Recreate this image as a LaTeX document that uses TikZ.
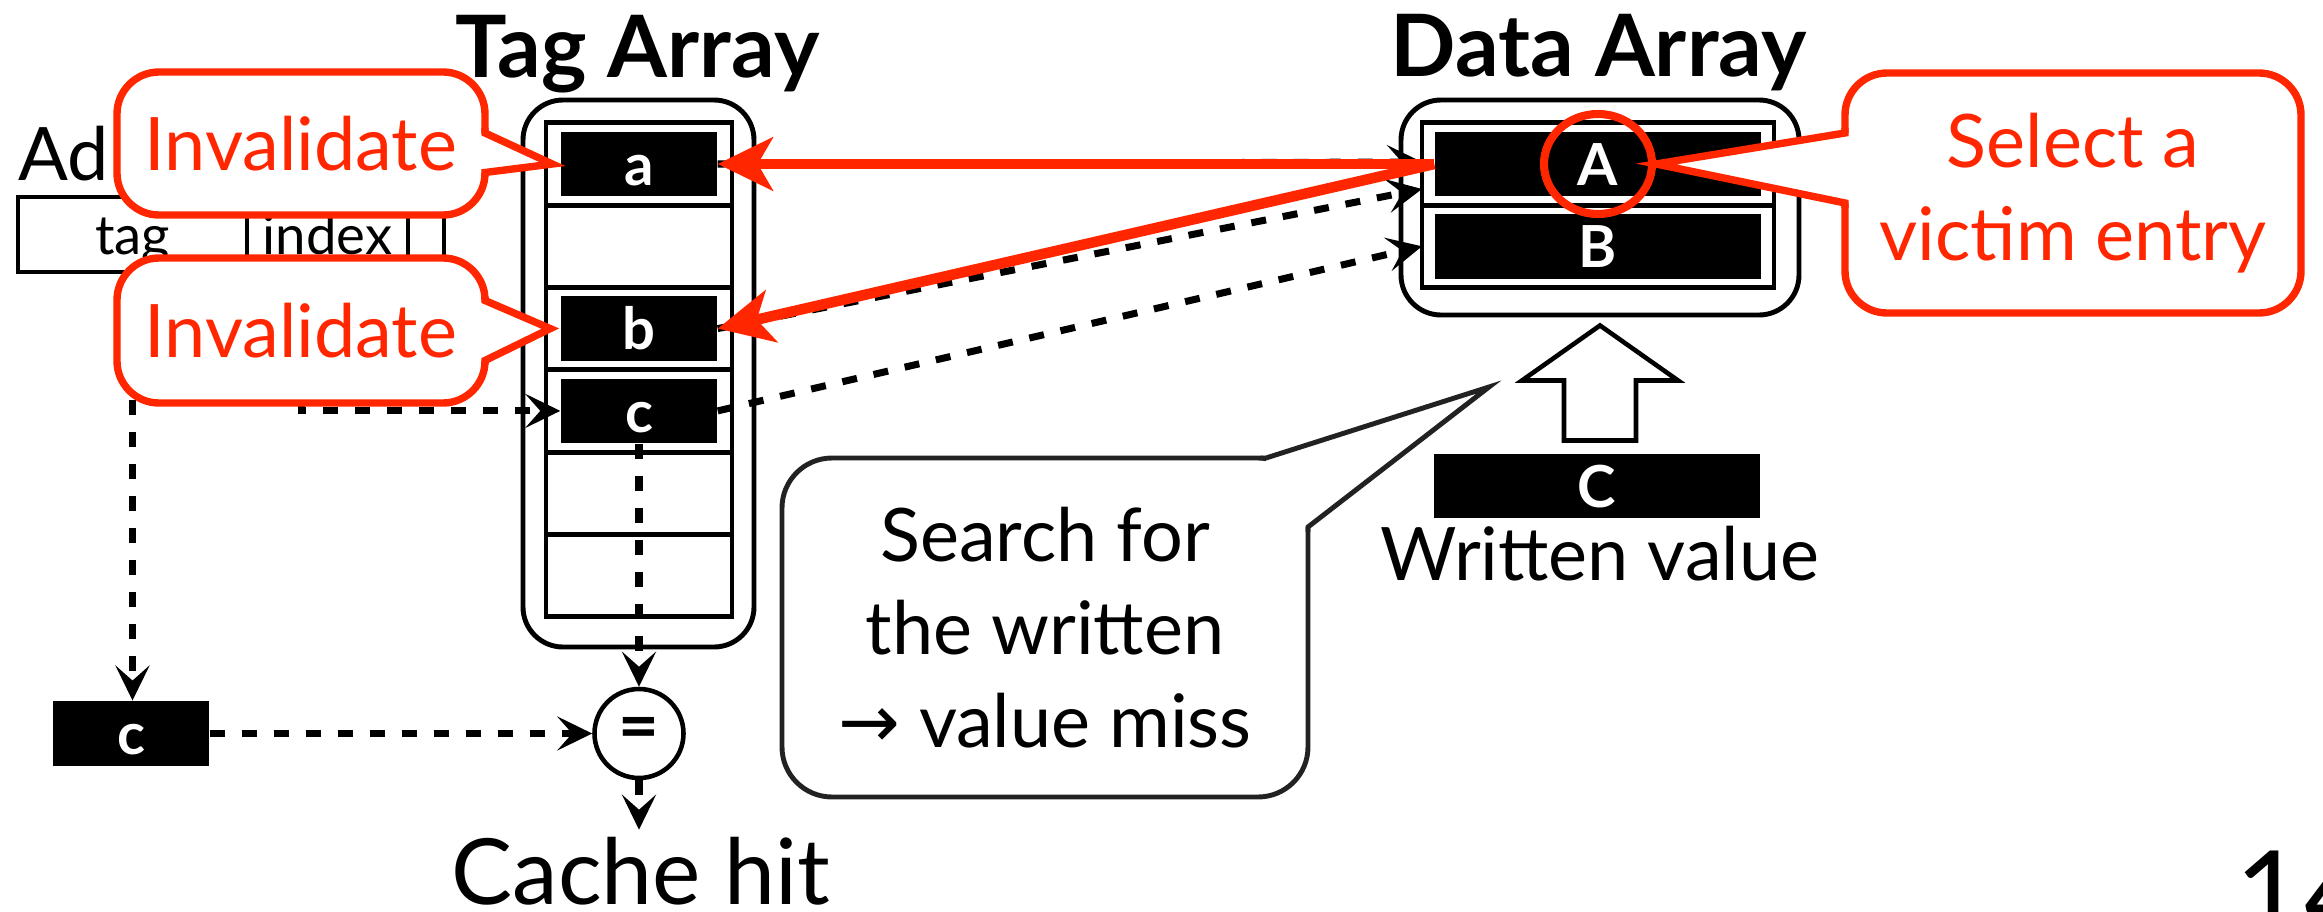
\documentclass[tikz,border=0pt]{standalone}
\usepackage{fontspec}
\setmainfont{Lato}
\newfontfamily\arrowfont{DejaVu Sans}
\usetikzlibrary{arrows.meta, positioning, calc, shapes.geometric}

\definecolor{kred}{RGB}{255,38,0}
\definecolor{kgray}{RGB}{34,34,34}

\begin{document}
\begin{tikzpicture}[
    title/.style={font=\bfseries\fontsize{24.5}{29}\selectfont, anchor=base, inner sep=0},
    txt/.style={font=\fontsize{21}{26.5}\selectfont, inner sep=0},
    frame/.style={draw, line width=1.4pt, rounded corners=0.4cm, minimum width=#1, inner sep=0},
    row/.style={draw, line width=1.4pt, minimum width=#1, minimum height=0.823cm, inner sep=0, outer sep=0},
    cell/.style={fill=black, text=white, font=\bfseries\fontsize{16.5}{16.5}\selectfont, minimum width=#1, minimum height=0.645cm, text height=12.1pt, text depth=0pt, inner sep=0},
    field/.style={draw, line width=1.2pt, minimum width=#1, minimum height=0.75cm, font=\fontsize{15.5}{15.5}\selectfont, text height=11.5pt, text depth=0pt, inner sep=0, outer sep=0},
    dasharrow/.style={-{Stealth[length=0.35cm, width=0.34cm, inset=0.15cm]}, line width=2pt, dash pattern=on 0.15cm off 0.17cm},
    redarrow/.style={draw=kred, line width=3pt, -{Stealth[length=0.55cm, width=0.53cm, inset=0.15cm]}},
    bubble/.style={draw=#1, fill=white, line width=2.1pt, rounded corners=0.42cm, align=center, font=\fontsize{21}{26.5}\selectfont, inner sep=0, outer sep=0},
    bubbletail/.style={draw=#1, line width=2.1pt, line join=miter},
    blockarrow/.style={draw, line width=1.3pt, fill=white}
]
\useasboundingbox (0,0) rectangle (23.23,9.11);

% Titulos
\node[title] (tagtitle) at (6.375,8.34) {Tag Array};
\node[title] (datatitle) at (15.985,8.35) {Data Array};

% Endereco
\node[txt, anchor=base west] (addr) at (0.18,7.31) {Ad};
\node[field=2.29cm] (tag) at (1.325,6.765) {tag};
\node[field=1.61cm, right=0pt of tag] (idx) {index};
\node[field=0.36cm, right=0pt of idx] (off) {};

% Tag array
\node[frame=2.31cm, minimum height=5.47cm] (tagarr) at (6.385,5.375) {};
\foreach \i in {0,...,5}
  \node[row=1.86cm] (t\i) at (6.39,{7.47-0.823*\i}) {};
\node[cell=1.56cm] (a) at (t0) {a};
\node[cell=1.56cm] (b) at (t2) {b};
\node[cell=1.56cm] (c) at (t3) {c};

% Data array
\node[frame=3.98cm, minimum height=2.15cm] (data) at (16.00,7.035) {};
\node[row=3.52cm] (d0) at (15.98,7.47) {};
\node[row=3.52cm] (d1) at (15.98,6.647) {};
\node[cell=3.26cm] (A) at (d0) {A};
\node[cell=3.26cm] (B) at (d1) {B};

% Comparacao
\node[cell=1.56cm] (cbox) at (1.31,1.775) {c};
\node[draw, circle, line width=1.3pt, minimum size=0.89cm, inner sep=0, font=\bfseries\fontsize{20}{20}\selectfont] (eq) at (6.39,1.775) {=};
\node[font=\fontsize{26}{31}\selectfont, anchor=base, inner sep=0, outer sep=0.07cm] (hit) at (6.41,0.07) {Cache hit};

% Valor escrito
\node[cell=3.26cm] (wval) at (15.97,4.25) {C};
\node[txt, anchor=base] (wlabel) at (16.00,3.31) {Written value};
\draw[blockarrow] ($(data.south)+(0,-0.08)$) -- ++(0.78,-0.55) -- ++(-0.42,0) -- ++(0,-0.60) -- ++(-0.72,0) -- ++(0,0.60) -- ++(-0.42,0) -- cycle;

% Setas tracejadas
\draw[dasharrow] (a.east) -- ([yshift=0.02cm]d0.west);
\draw[dasharrow] (b.east) -- ([yshift=-0.25cm]d0.west);
\draw[dasharrow] (c.east) -- (d1.west);
\draw[dasharrow] (tag.south) -- (tag.south |- cbox.north);
\draw[dasharrow] ([xshift=-0.26cm]idx.south) |- (c.west);
\draw[dasharrow] (cbox.east) -- (eq.west);
\draw[dasharrow] (c.south) -- (eq.north);
\draw[dasharrow] (eq.south) -- (eq.south |- hit.north);

% Setas vermelhas
\draw[redarrow] (A.west) -- (a.east);
\draw[redarrow] (A.west) -- (b.east);
\node[draw=kred, line width=2.3pt, ellipse, minimum width=1.08cm, minimum height=1.0cm, inner sep=0] (victim) at (A) {};

% Baloes
\node[bubble=kred, text=kred, minimum width=3.68cm, minimum height=1.43cm, text height=15.5pt, text depth=0pt] (inv1) at (3.01,7.675) {Invalidate};
\fill[white] ($(inv1.east)+(-0.1,0.105)$) -- ($(inv1.east)+(0,0.105)$) -- ([xshift=-0.08cm]a.west) -- ($(inv1.east)+(0,-0.29)$) -- ($(inv1.east)+(-0.1,-0.29)$) -- cycle;
\draw[bubbletail=kred] ($(inv1.east)+(0,0.16)$) -- ($(inv1.east)+(0,0.105)$) -- ([xshift=-0.08cm]a.west) -- ($(inv1.east)+(0,-0.29)$) -- ($(inv1.east)+(0,-0.33)$);

\node[bubble=kred, text=kred, minimum width=3.68cm, minimum height=1.45cm, text height=15.5pt, text depth=0pt] (inv2) at (3.01,5.805) {Invalidate};
\fill[white] ($(inv2.east)+(-0.1,0.30)$) -- ($(inv2.east)+(0,0.30)$) -- ([xshift=-0.1cm]b.west) -- ($(inv2.east)+(0,-0.30)$) -- ($(inv2.east)+(-0.1,-0.30)$) -- cycle;
\draw[bubbletail=kred] ($(inv2.east)+(0,0.34)$) -- ($(inv2.east)+(0,0.30)$) -- ([xshift=-0.1cm]b.west) -- ($(inv2.east)+(0,-0.30)$) -- ($(inv2.east)+(0,-0.34)$);

\node[bubble=kred, text=kred, minimum width=4.56cm, minimum height=2.40cm] (sel) at (20.73,7.18) {Select a\\victim entry};
\fill[white] ($(sel.west)+(0.1,0.60)$) -- ($(sel.west)+(0,0.60)$) -- (victim.east) -- ($(sel.west)+(0,-0.10)$) -- ($(sel.west)+(0.1,-0.10)$) -- cycle;
\draw[bubbletail=kred] ($(sel.west)+(0,0.65)$) -- ($(sel.west)+(0,0.60)$) -- (victim.east) -- ($(sel.west)+(0,-0.10)$) -- ($(sel.west)+(0,-0.15)$);

\node[bubble=kgray, line width=1.4pt, rounded corners=0.5cm, minimum width=5.26cm, minimum height=3.39cm] (search) at (10.45,2.835) {Search for\\the written\\{\arrowfont →} value miss};
\coordinate (srchtip) at (14.89,5.24);
\fill[white] ($(search.north east)+(-0.42,0)$) -- (srchtip) -- ($(search.north east)+(0,-0.69)$) -- ($(search.north east)+(-0.1,-0.69)$) -- ($(search.north east)+(-0.42,-0.1)$) -- cycle;
\draw[bubbletail=kgray, line width=1.4pt] ($(search.north east)+(-0.47,0)$) -- ($(search.north east)+(-0.42,0)$) -- (srchtip) -- ($(search.north east)+(0,-0.69)$) -- ($(search.north east)+(0,-0.74)$);

% Numero da pagina
\node[font=\fontsize{33.5}{40}\selectfont, anchor=base west, inner sep=0] (page) at (22.35,-0.24) {14};

\end{tikzpicture}
\end{document}
